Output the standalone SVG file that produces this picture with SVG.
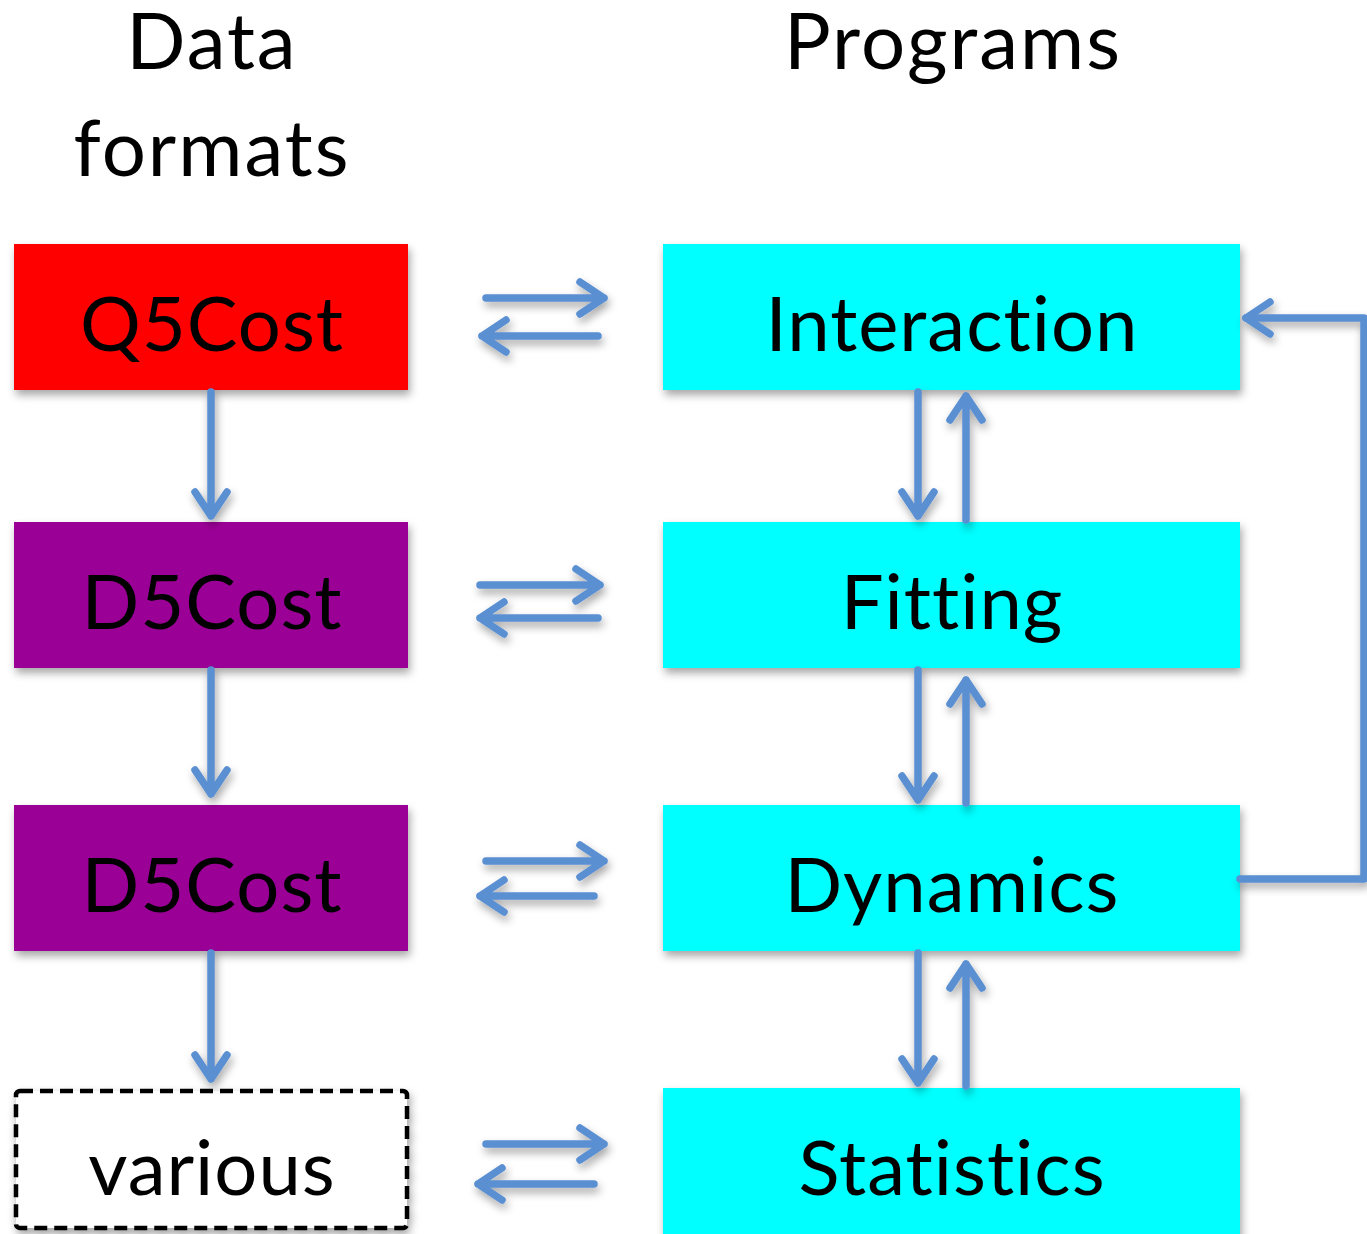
<svg xmlns="http://www.w3.org/2000/svg" width="1367" height="1234" viewBox="0 0 1367 1234">
<defs>
<style>
text{font-family:Lato,"Open Sans","Liberation Sans",sans-serif;font-size:76px;letter-spacing:1px;fill:#000;text-anchor:middle}
text.hd{font-size:78px;letter-spacing:2px}
.c{fill:none;stroke:#5A8FD2;stroke-width:7.5;stroke-linecap:round;stroke-linejoin:round}
</style>
<filter id="sh" x="-10%" y="-10%" width="130%" height="140%">
<feDropShadow dx="2" dy="5" stdDeviation="4" flood-color="#000" flood-opacity="0.35"/>
</filter>
</defs>
<g id="headers">
<text class="hd" x="212" y="69">Data</text>
<text class="hd" x="212" y="176">formats</text>
<text class="hd" x="953" y="69">Programs</text>
</g>
<g id="n-q5cost"><rect x="14" y="244" width="394" height="146" fill="#FF0000" filter="url(#sh)"/><text x="212" y="351">Q5Cost</text></g>
<g id="n-d5cost1"><rect x="14" y="522" width="394" height="146" fill="#9B0096" filter="url(#sh)"/><text x="212" y="629">D5Cost</text></g>
<g id="n-d5cost2"><rect x="14" y="805" width="394" height="146" fill="#9B0096" filter="url(#sh)"/><text x="212" y="912">D5Cost</text></g>
<g id="n-various"><rect x="16" y="1091" width="391" height="137" rx="4" fill="#fff" stroke="#000" stroke-width="4.5" stroke-dasharray="13,7" filter="url(#sh)"/><text x="212" y="1195">various</text></g>
<g id="n-interaction"><rect x="663" y="244" width="577" height="146" fill="#00FFFF" filter="url(#sh)"/><text x="952" y="351">Interaction</text></g>
<g id="n-fitting"><rect x="663" y="522" width="577" height="146" fill="#00FFFF" filter="url(#sh)"/><text x="952" y="629">Fitting</text></g>
<g id="n-dynamics"><rect x="663" y="805" width="577" height="146" fill="#00FFFF" filter="url(#sh)"/><text x="952" y="912">Dynamics</text></g>
<g id="n-statistics"><rect x="663" y="1088" width="577" height="160" fill="#00FFFF" filter="url(#sh)"/><text x="952" y="1195">Statistics</text></g>
<g id="connectors" filter="url(#sh)">
<path class="c" d="M486,298 H604 M580,282 L604,298 L580,314"/>
<path class="c" d="M598,336 H482 M506,320 L482,336 L506,352"/>
<path class="c" d="M480,585 H600 M576,569 L600,585 L576,601"/>
<path class="c" d="M598,618 H480 M504,602 L480,618 L504,634"/>
<path class="c" d="M486,861 H604 M580,845 L604,861 L580,877"/>
<path class="c" d="M594,896 H480 M504,880 L480,896 L504,912"/>
<path class="c" d="M486,1144 H604 M580,1128 L604,1144 L580,1160"/>
<path class="c" d="M594,1184 H478 M502,1168 L478,1184 L502,1200"/>
<path class="c" d="M211,392 V516 M195,492 L211,516 L227,492"/>
<path class="c" d="M211,670 V794 M195,770 L211,794 L227,770"/>
<path class="c" d="M211,953 V1079 M195,1055 L211,1079 L227,1055"/>
<path class="c" d="M918,392 V516 M902,492 L918,516 L934,492"/>
<path class="c" d="M966,520 V396 M950,420 L966,396 L982,420"/>
<path class="c" d="M918,670 V800 M902,776 L918,800 L934,776"/>
<path class="c" d="M966,803 V680 M950,704 L966,680 L982,704"/>
<path class="c" d="M918,953 V1083 M902,1059 L918,1083 L934,1059"/>
<path class="c" d="M966,1086 V964 M950,988 L966,964 L982,988"/>
<path class="c" d="M1240,879 H1364 V318 H1246" stroke-linecap="butt"/>
<path class="c" d="M1270,302 L1246,318 L1270,334"/>
</g>
</svg>
